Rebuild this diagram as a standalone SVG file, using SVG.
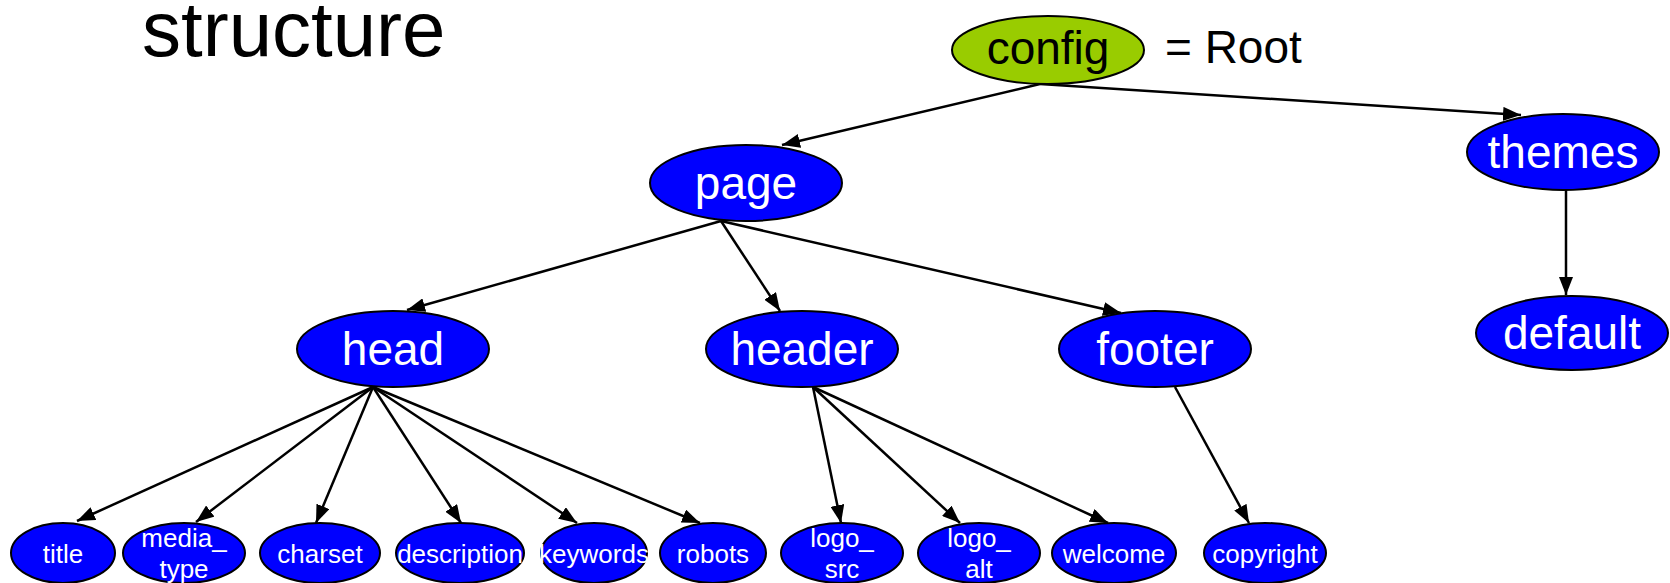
<svg xmlns="http://www.w3.org/2000/svg" width="1670" height="583" viewBox="0 0 1670 583">
<style>
.n{fill:#0000FF;stroke:#000;stroke-width:2}
.root{fill:#99CC00;stroke:#000;stroke-width:2}
.big{font-family:"Liberation Sans",Arial,sans-serif;font-size:46px;fill:#fff;text-anchor:middle}
.sm{font-family:"Liberation Sans",Arial,sans-serif;font-size:26px;fill:#fff;text-anchor:middle}
.blk{font-family:"Liberation Sans",Arial,sans-serif;fill:#000}
.c line{stroke:#000;stroke-width:2.5;marker-end:url(#arr)}
</style>
<defs>
<marker id="arr" markerWidth="18" markerHeight="14" refX="18" refY="7" orient="auto" markerUnits="userSpaceOnUse">
<path d="M0,0 L18,7 L0,14 z" fill="#000"/>
</marker>
</defs>
<rect width="1670" height="583" fill="#fff"/>
<text class="blk" x="142" y="56" font-size="78">structure</text>
<text class="blk" x="1165" y="63" font-size="46">= Root</text>
<g class="c" id="connectors">
<line x1="1040" y1="84" x2="782" y2="145"/>
<line x1="1040" y1="84" x2="1521" y2="115"/>
<line x1="1566" y1="190" x2="1566" y2="295"/>
<line x1="721" y1="221" x2="407" y2="310"/>
<line x1="721" y1="221" x2="780" y2="311"/>
<line x1="721" y1="221" x2="1121" y2="313"/>
<line x1="373" y1="387" x2="77" y2="521"/>
<line x1="373" y1="387" x2="196" y2="522"/>
<line x1="373" y1="387" x2="316" y2="523"/>
<line x1="373" y1="387" x2="461" y2="523"/>
<line x1="373" y1="387" x2="577" y2="523"/>
<line x1="373" y1="387" x2="700" y2="523"/>
<line x1="813" y1="387" x2="841" y2="523"/>
<line x1="813" y1="387" x2="960" y2="523"/>
<line x1="813" y1="387" x2="1108" y2="523"/>
<line x1="1175" y1="387" x2="1249" y2="523"/>
</g>
<g id="config"><ellipse class="root" cx="1048" cy="50" rx="96" ry="34"/><text class="big" x="1048" y="64" style="fill:#000">config</text></g>
<g id="themes"><ellipse class="n" cx="1563" cy="152" rx="96" ry="38"/><text class="big" x="1563" y="168">themes</text></g>
<g id="page"><ellipse class="n" cx="746" cy="183" rx="96" ry="38"/><text class="big" x="746" y="199">page</text></g>
<g id="head"><ellipse class="n" cx="393" cy="349" rx="96" ry="38"/><text class="big" x="393" y="365">head</text></g>
<g id="header"><ellipse class="n" cx="802" cy="349" rx="96" ry="38"/><text class="big" x="802" y="365">header</text></g>
<g id="footer"><ellipse class="n" cx="1155" cy="349" rx="96" ry="38"/><text class="big" x="1155" y="365">footer</text></g>
<g id="default"><ellipse class="n" cx="1572" cy="333" rx="96" ry="37"/><text class="big" x="1572" y="349">default</text></g>
<g id="title"><ellipse class="n" cx="63" cy="553" rx="52" ry="30"/><text class="sm" x="63" y="563">title</text></g>
<g id="media_type"><ellipse class="n" cx="184" cy="553" rx="61" ry="30"/><text class="sm" x="184" y="547">media_</text><text class="sm" x="184" y="578">type</text></g>
<g id="charset"><ellipse class="n" cx="320" cy="553" rx="60" ry="30"/><text class="sm" x="320" y="563">charset</text></g>
<g id="description"><ellipse class="n" cx="460" cy="553" rx="64" ry="30"/><text class="sm" x="460" y="563">description</text></g>
<g id="keywords"><ellipse class="n" cx="594" cy="553" rx="53" ry="30"/><text class="sm" x="594" y="563">keywords</text></g>
<g id="robots"><ellipse class="n" cx="713" cy="553" rx="53" ry="30"/><text class="sm" x="713" y="563">robots</text></g>
<g id="logo_src"><ellipse class="n" cx="842" cy="553" rx="61" ry="30"/><text class="sm" x="842" y="547">logo_</text><text class="sm" x="842" y="578">src</text></g>
<g id="logo_alt"><ellipse class="n" cx="979" cy="553" rx="61" ry="30"/><text class="sm" x="979" y="547">logo_</text><text class="sm" x="979" y="578">alt</text></g>
<g id="welcome"><ellipse class="n" cx="1114" cy="553" rx="62" ry="30"/><text class="sm" x="1114" y="563">welcome</text></g>
<g id="copyright"><ellipse class="n" cx="1265" cy="553" rx="61" ry="30"/><text class="sm" x="1265" y="563">copyright</text></g>
</svg>
